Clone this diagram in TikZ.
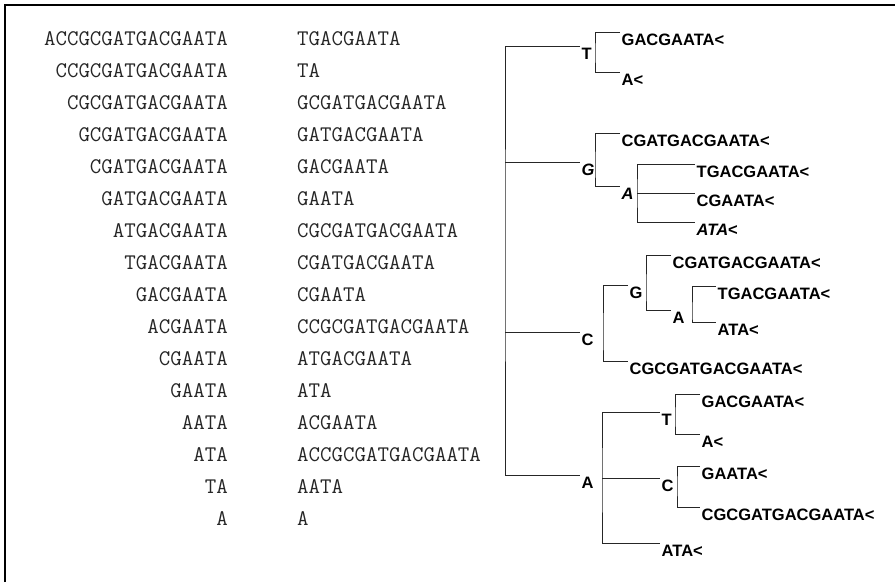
\documentclass[tikz,border=0pt]{standalone}
\usepackage{fontspec}
\setmainfont{Liberation Sans}
\usepackage{tikz}
\usetikzlibrary{calc}

\tikzset{
  seq/.style={font=\ttfamily\fontsize{22.3}{24}\selectfont, text=black!85, inner sep=0pt},
  lbl/.style={font=\bfseries\fontsize{16.5}{18}\selectfont, anchor=north west, inner sep=1.5pt},
  trie/.style={draw=black!85, line width=0.8pt},
}

\begin{document}
\begin{tikzpicture}[x=1pt, y=-1pt]
    \useasboundingbox (0,0) rectangle (895,582);

    % Frame
    \draw[line width=2.5pt] (5,582) -- (5,5) -- (895,5);

    % Suffixes
    \foreach \s [count=\i] in {ACCGCGATGACGAATA,CCGCGATGACGAATA,CGCGATGACGAATA,GCGATGACGAATA,
        CGATGACGAATA,GATGACGAATA,ATGACGAATA,TGACGAATA,GACGAATA,ACGAATA,CGAATA,GAATA,AATA,ATA,TA,A}
        \node[seq, anchor=base east] (l\i) at (228,13+32*\i) {\s};

    % Sorted suffixes
    \foreach \s [count=\i] in {TGACGAATA,TA,GCGATGACGAATA,GATGACGAATA,GACGAATA,GAATA,CGCGATGACGAATA,
        CGATGACGAATA,CGAATA,CCGCGATGACGAATA,ATGACGAATA,ATA,ACGAATA,ACCGCGATGACGAATA,AATA,A}
        \node[seq, anchor=base west] (r\i) at (297,13+32*\i) {\s};

    % Trie nodes
    \coordinate (rv) at (505,250);
    \node[lbl] (T) at (580,46) {T};
    \node[lbl] (G) at (580,162) {\textit{G}};
    \node[lbl] (C) at (580,332) {C};
    \node[lbl] (A) at (580,475) {A};

    \coordinate (vT) at (595,0);
    \node[lbl] (T1) at (620,32) {GACGAATA<};
    \node[lbl] (T2) at (620,72) {A<};

    \coordinate (vG) at (595,0);
    \node[lbl] (G1) at (620,133) {CGATGACGAATA<};
    \node[lbl] (GA) at (620,186) {\textit{A}};
    \coordinate (vGA) at (637,0);
    \node[lbl] (GA1) at (695,164) {TGACGAATA<};
    \node[lbl] (GA2) at (695,193) {CGAATA<};
    \node[lbl] (GA3) at (695,222) {\textit{ATA}<};

    \coordinate (vC) at (603,0);
    \node[lbl] (CG) at (628,285) {G};
    \node[lbl] (C1) at (628,361) {CGCGATGACGAATA<};
    \coordinate (vCG) at (646,0);
    \node[lbl] (CG1) at (671,255) {CGATGACGAATA<};
    \node[lbl] (CGA) at (671,310) {A};
    \coordinate (vCGA) at (692,0);
    \node[lbl] (CGA1) at (716,286) {TGACGAATA<};
    \node[lbl] (CGA2) at (716,322) {ATA<};

    \coordinate (vA) at (602,0);
    \node[lbl] (AT) at (660,412) {T};
    \node[lbl] (AC) at (660,478) {C};
    \node[lbl] (A1) at (660,543) {ATA<};
    \coordinate (vAT) at (675,0);
    \node[lbl] (AT1) at (700,394) {GACGAATA<};
    \node[lbl] (AT2) at (700,434) {A<};
    \coordinate (vAC) at (677,0);
    \node[lbl] (AC1) at (700,466) {GAATA<};
    \node[lbl] (AC2) at (700,507) {CGCGATGACGAATA<};

    % Branches
    \draw[trie] (T.north west) -| (rv) |- (A.north west);
    \draw[trie] (rv |- G.north west) -- (G.north west);
    \draw[trie] (rv |- C.north west) -- (C.north west);

    \draw[trie] (T1.north west) -| (vT |- T.east) |- (T2.north west);

    \draw[trie] (G1.north west) -| (vG |- G.east) |- (GA.north west);
    \draw[trie] (GA1.north west) -| (vGA |- GA.east) |- (GA3.north west);
    \draw[trie] (vGA |- GA2.north west) -- (GA2.north west);

    \draw[trie] (CG.north west) -| (vC |- C.east) |- (C1.north west);
    \draw[trie] (CG1.north west) -| (vCG |- CG.east) |- (CGA.north west);
    \draw[trie] (CGA1.north west) -| (vCGA |- CGA.east) |- (CGA2.north west);

    \draw[trie] (AT.north west) -| (vA |- A.east) |- (A1.north west);
    \draw[trie] (vA |- AC.north west) -- (AC.north west);
    \draw[trie] (AT1.north west) -| (vAT |- AT.east) |- (AT2.north west);
    \draw[trie] (AC1.north west) -| (vAC |- AC.east) |- (AC2.north west);
\end{tikzpicture}
\end{document}
